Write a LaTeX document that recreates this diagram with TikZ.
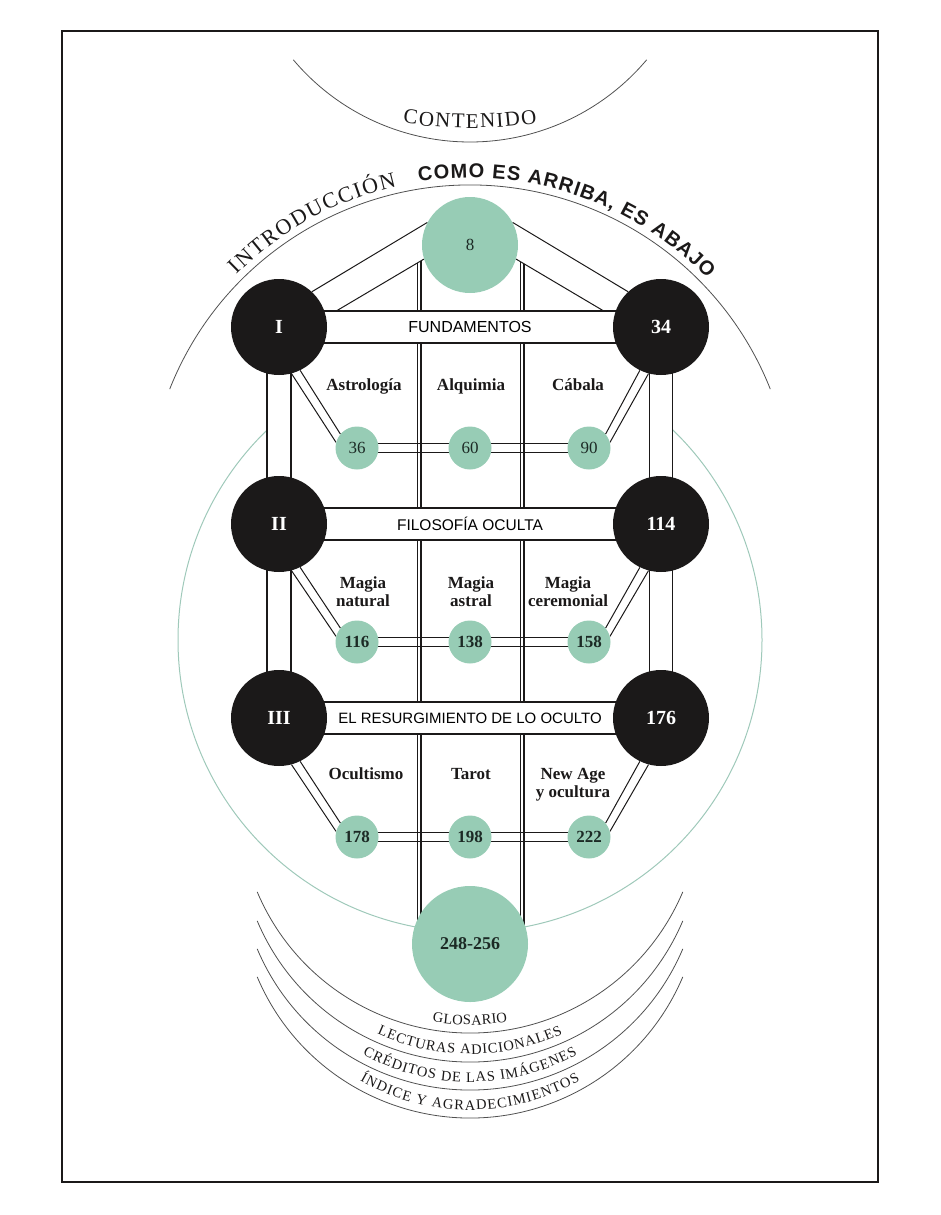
\documentclass[tikz,border=0pt]{standalone}
\usepackage{fontspec}
\setmainfont{Liberation Serif}
\newfontfamily\sansf{Liberation Sans}
\newfontfamily\arcserif{Liberation Serif}
\usetikzlibrary{calc}
\definecolor{mint}{HTML}{97CCB5}
\definecolor{ringc}{HTML}{9FC9BA}
\definecolor{ink}{HTML}{1B1919}
\definecolor{numink}{HTML}{1C2A25}
\definecolor{arcgray}{HTML}{505050}
\newcommand\IntroFont{\arcserif\fontsize{22}{22}\selectfont}
\newcommand\MottoFont{\sansf\bfseries\fontsize{20}{20}\selectfont}
\newcommand\ContFont{\arcserif\fontsize{21}{21}\selectfont}
\newcommand\TailFont{\arcserif\fontsize{14.5}{14.5}\selectfont}
\makeatletter
\newdimen\arcW
\newcount\arcN
\newcount\arcJ
\newcount\arcK
% measured outside the picture: #1 key, #2 font, #3 text (~ = space)
\newcommand\MeasureArc[3]{%
  \global\arcW=0pt\global\arcN=0
  \@tfor\arc@c:=#3\do{%
    \global\advance\arcN by1
    \setbox0=\hbox{#2\arc@c}%
    \global\advance\arcW by\wd0
    \expandafter\xdef\csname arcw@#1@\the\arcN\endcsname{\strip@pt\wd0}%
  }%
  \expandafter\xdef\csname arcW@#1\endcsname{\strip@pt\arcW}%
  \expandafter\xdef\csname arcN@#1\endcsname{\the\arcN}%
}
% #1 cx, #2 cy, #3 radius, #4 start angle, #5 end angle, #6 font, #7 key, #8 text
\newcommand\ArcText[8]{%
  \pgfmathsetmacro\arc@sg{sign(#5-(#4))}%
  \pgfmathsetmacro\arc@len{abs(#5-(#4))/180*pi*#3}%
  \pgfmathsetmacro\arc@gap{(\arc@len - \csname arcW@#7\endcsname)/max(\csname arcN@#7\endcsname-1,1)}%
  \def\arc@s{0}%
  \global\arcJ=0
  \@tfor\arc@c:=#8\do{%
    \global\advance\arcJ by1
    \edef\arc@w{\csname arcw@#7@\the\arcJ\endcsname}%
    \pgfmathsetmacro\arc@th{#4 + (\arc@sg)*((\arc@s + 0.5*\arc@w)/(#3))*57.29578}%
    \pgfmathsetmacro\arc@rot{-(\arc@th) - (\arc@sg)*90}%
    \global\advance\arcK by1
    \path (#1,#2) ++(\arc@th:#3) node[anchor=base, inner sep=0pt, text=ink, font=#6, rotate=\arc@rot] (arcch\the\arcK) {\arc@c};
    \pgfmathsetmacro\arc@s{\arc@s + \arc@w + \arc@gap}%
  }%
}
\makeatother
\pgfdeclarelayer{back}
\pgfdeclarelayer{links}
\pgfdeclarelayer{bars}
\pgfsetlayers{back,links,bars,main}
\tikzset{
  blk/.style={circle, fill=ink, inner sep=0pt, minimum size=96pt, text=white, font=\bfseries\fontsize{20}{20}\selectfont},
  gnode/.style={circle, fill=mint, inner sep=0pt, minimum size=43pt, text=numink, font=\bfseries\fontsize{17}{17}\selectfont},
  gthin/.style={font=\fontsize{17}{17}\selectfont},
  lbl/.style={text=ink, align=center, inner sep=0pt, font=\bfseries\fontsize{17}{18}\selectfont},
  barbox/.style={draw=ink, line width=1.3pt, fill=white, minimum height=32pt, minimum width=382pt, inner sep=0pt, font=\sansf\fontsize{16}{16}\selectfont},
  pillar/.style={draw=ink, line width=1.3pt, fill=white},
  linkline/.style={draw=ink, line width=1pt},
  rail/.style={draw=ink, line width=1.2pt},
  arcline/.style={draw=arcgray, line width=0.8pt},
  pageframe/.style={draw=ink, line width=1.3pt},
}
\begin{document}
\MeasureArc{cont}{\ContFont}{CONTENIDO}
\MeasureArc{intro}{\IntroFont}{INTRODUCCIÓN}
\MeasureArc{motto}{\MottoFont}{COMO~ES~ARRIBA,~ES~ABAJO}
\MeasureArc{glo}{\TailFont}{GLOSARIO}
\MeasureArc{lec}{\TailFont}{LECTURAS~ADICIONALES}
\MeasureArc{cre}{\TailFont}{CRÉDITOS~DE~LAS~IMÁGENES}
\MeasureArc{ind}{\TailFont}{ÍNDICE~Y~AGRADECIMIENTOS}
\begin{tikzpicture}[x=1pt,y=-1pt]
\useasboundingbox (0,0) rectangle (940,1215);
\draw[pageframe] (62,31) rectangle (878,1182);

% main nodes
\node[blk] (I) at (279,327) {I};
\node[blk] (n34) at (661,327) {34};
\node[blk] (II) at (279,524) {II};
\node[blk] (n114) at (661,524) {114};
\node[blk] (III) at (279,718) {III};
\node[blk] (n176) at (661,718) {176};
\node[gnode, minimum size=96pt, gthin] (n8) at (470,245) {8};
\node[gnode, gthin] (n36) at (357,448) {36};
\node[gnode, gthin] (n60) at (470,448) {60};
\node[gnode, gthin] (n90) at (589,448) {90};
\node[gnode] (n116) at (357,642) {116};
\node[gnode] (n138) at (470,642) {138};
\node[gnode] (n158) at (589,642) {158};
\node[gnode] (n178) at (357,837) {178};
\node[gnode] (n198) at (470,837) {198};
\node[gnode] (n222) at (589,837) {222};
\node[gnode, minimum size=116pt, font=\bfseries\fontsize{18}{18}\selectfont] (big) at (470,944) {248-256};

% labels
\node[lbl, anchor=base] (tAst) at (364,390) {Astrología};
\node[lbl, anchor=base] (tAlq) at (471,390) {Alquimia};
\node[lbl, anchor=base] (tCab) at (578,390) {Cábala};
\node[lbl] (tMn) at (363,592) {Magia\\natural};
\node[lbl] (tMa) at (471,592) {Magia\\astral};
\node[lbl] (tMc) at (568,592) {Magia\\ceremonial};
\node[lbl, anchor=base] (tOc) at (366,779) {Ocultismo};
\node[lbl, anchor=base] (tTa) at (471,779) {Tarot};
\node[lbl] (tNa) at (573,785) {New Age\\y ocultura};

% bars and pillars
\begin{pgfonlayer}{bars}
\draw[pillar] ([xshift=-12pt]I.center) rectangle ([xshift=12pt]III.center);
\draw[pillar] ([xshift=-11.5pt]n34.center) rectangle ([xshift=11.5pt]n176.center);
\node[barbox] (b1) at ($(I)!.5!(n34)$) {FUNDAMENTOS};
\node[barbox, font=\sansf\fontsize{15.5}{16}\selectfont] (b2) at ($(II)!.5!(n114)$) {FILOSOFÍA OCULTA};
\node[barbox, font=\sansf\fontsize{15}{16}\selectfont] (b3) at ($(III)!.5!(n176)$) {EL RESURGIMIENTO DE LO OCULTO};
\end{pgfonlayer}

% connectors
\begin{pgfonlayer}{links}
\draw[linkline] (n8.152) -- (I.47);
\draw[linkline] (n8.197) -- (I.12);
\draw[linkline] (n8.28) -- (n34.133);
\draw[linkline] (n8.-17) -- (n34.168);
\coordinate (vL1) at (417.5,262.9);
\coordinate (vL2) at (421,260.8);
\coordinate (vR1) at (520.5,261.7);
\coordinate (vR2) at (524,263.8);
\foreach \v in {vL1,vL2,vR1,vR2}{
  \draw[rail] (\v) -- (\v |- big.center);
}
\foreach \a/\b in {I/n36, II/n116, III/n178}{
  \draw[linkline] (\a.-64) -- (\b.140);
  \draw[linkline] (\a.-75) -- (\b.165);
}
\foreach \a/\b in {n34/n90, n114/n158, n176/n222}{
  \draw[linkline] (\a.-116) -- (\b.40);
  \draw[linkline] (\a.-105) -- (\b.15);
}
\foreach \a/\b in {n36/n60, n60/n90, n116/n138, n138/n158, n178/n198, n198/n222}{
  \draw[rail] ([yshift=4.5pt]\a.center) -- ([yshift=4.5pt]\b.center);
  \draw[rail] ([yshift=-4.5pt]\a.center) -- ([yshift=-4.5pt]\b.center);
}
\end{pgfonlayer}

% green ring
\begin{pgfonlayer}{back}
\draw[draw=ringc, line width=1pt] (470,640) circle[radius=292];
\fill[white] (272,345) rectangle (668,780);
\end{pgfonlayer}

% top arcs and titles
\draw[arcline] (470,-89) ++(139.9:231) arc[start angle=139.9, end angle=40.1, radius=231];
\ArcText{470}{-321}{449}{98.6}{81.4}{\ContFont}{cont}{CONTENIDO}
\draw[arcline] (470,508) ++(201.6:323) arc[start angle=201.6, end angle=338.4, radius=323];
\ArcText{470}{508}{330}{225}{257.2}{\IntroFont}{intro}{INTRODUCCIÓN}
\ArcText{470}{508}{330}{261.1}{316}{\MottoFont}{motto}{COMO~ES~ARRIBA,~ES~ABAJO}

% bottom arcs
\foreach \cy in {802,831,859,887}{
  \draw[arcline] (470,\cy) ++(157.1:231) arc[start angle=157.1, end angle=22.9, radius=231];
}
\ArcText{470}{802}{223}{99.7}{80.3}{\TailFont}{glo}{GLOSARIO}
\ArcText{470}{831}{223}{114.6}{65.4}{\TailFont}{lec}{LECTURAS~ADICIONALES}
\ArcText{470}{859}{223}{118.8}{61.2}{\TailFont}{cre}{CRÉDITOS~DE~LAS~IMÁGENES}
\ArcText{470}{887}{223}{119.6}{60.4}{\TailFont}{ind}{ÍNDICE~Y~AGRADECIMIENTOS}
\end{tikzpicture}
\end{document}
